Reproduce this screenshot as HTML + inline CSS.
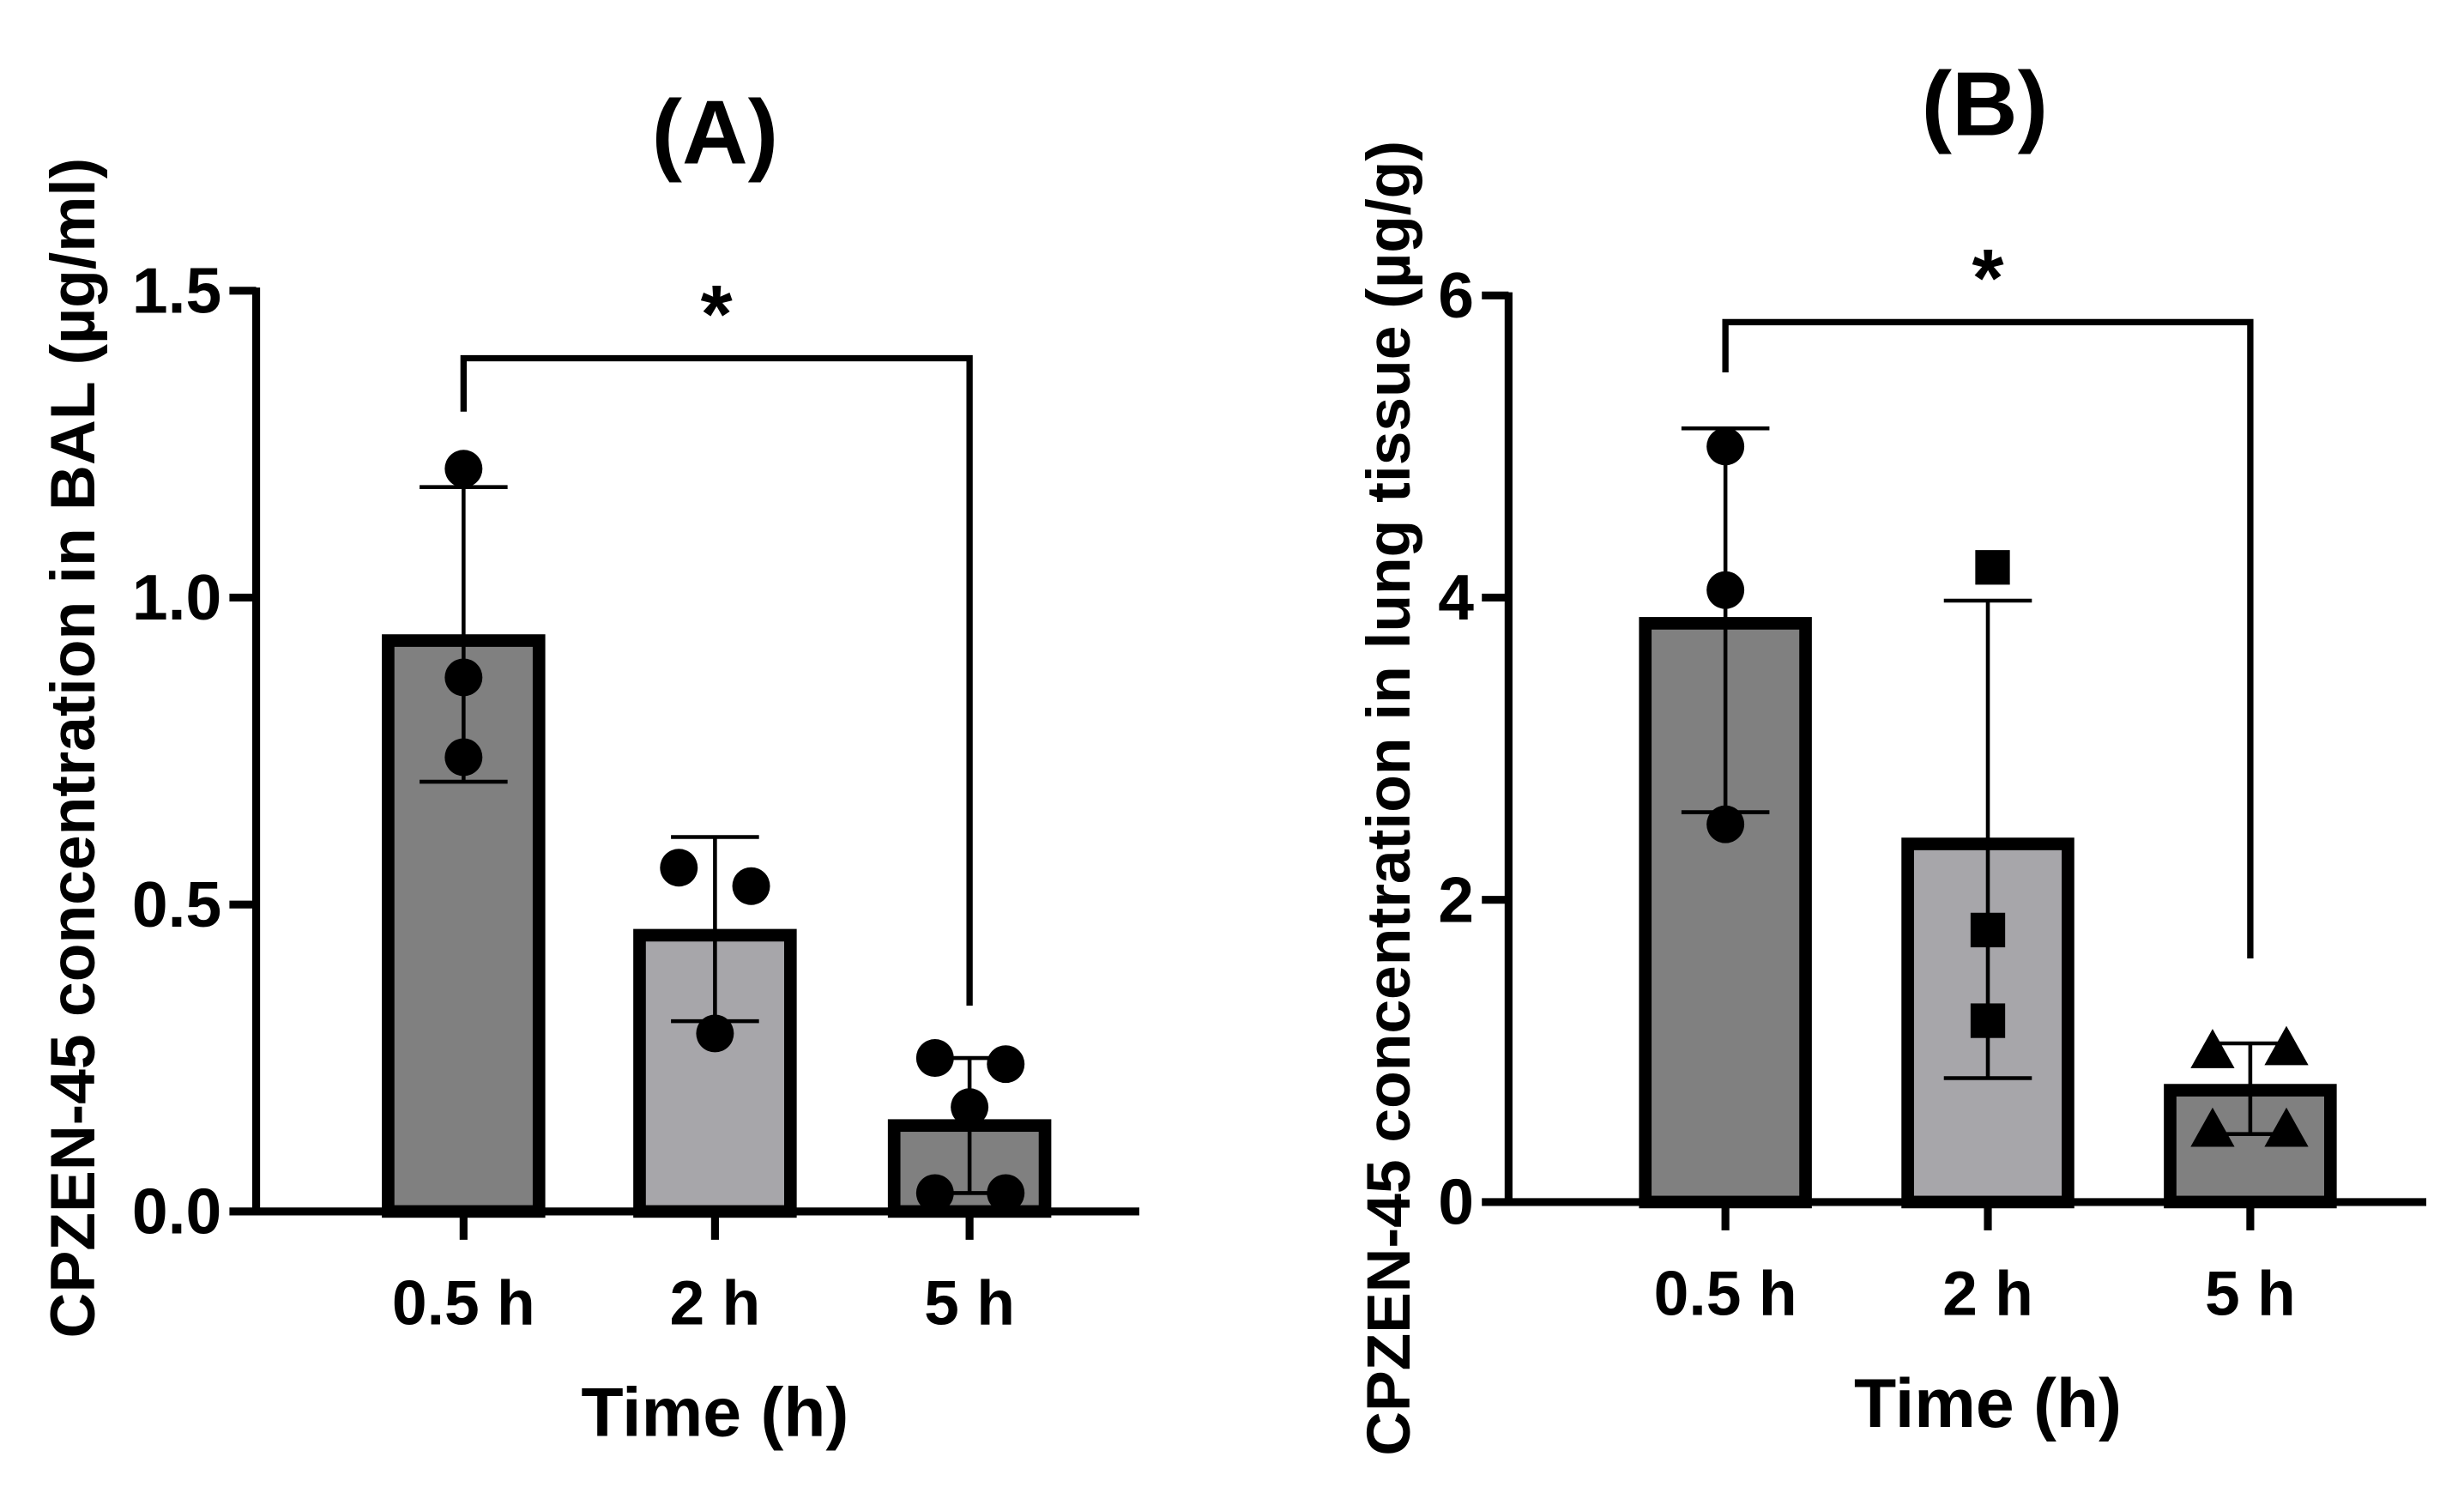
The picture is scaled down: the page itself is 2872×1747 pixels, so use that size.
<!DOCTYPE html>
<html><head><meta charset="utf-8"><style>
html,body{margin:0;padding:0;background:#fff;}
svg{display:block;font-family:"Liberation Sans",Arial,sans-serif;font-weight:bold;}
</style></head><body>
<svg id="fig" width="2872" height="1747" viewBox="0 0 1568 954" preserveAspectRatio="none" xmlns="http://www.w3.org/2000/svg"></svg>
<script>
const categories = ["0.5 h","2 h","5 h"];
const meansA = [0.93, 0.45, 0.14];
const errLowA = [0.70, 0.31, 0.03];
const errHighA = [1.18, 0.61, 0.25];
const pointsA = [[1.21,0.87,0.74],[0.56,0.53,0.29],[0.25,0.24,0.17,0.03,0.03]];
const pointsAOffsets = [[0,0,0],[-23,23,0],[-22,23,0,-22,23]];
const ticksA = [0,0.5,1.0,1.5];
const tickLabelsA = ["0.0","0.5","1.0","1.5"];
const meansB = [3.83, 2.37, 0.74];
const errLowB = [2.58, 0.82, 0.45];
const errHighB = [5.12, 3.98, 1.05];
const pointsB = [[5.0,4.05,2.5],[4.2,1.8,1.2],[1.0,1.02,0.48,0.48]];
const pointsBOffsets = [[0,0,0],[3,0,0],[-24,23,-24,23]];
const ticksB = [0,2,4,6];
const tickLabelsB = ["0","2","4","6"];
const barFill = ["#808080","#a7a6aa","#808080"];

const svg = document.getElementById('fig');
const NS = "http://www.w3.org/2000/svg";
function mk(tag, attrs, parent){const e=document.createElementNS(NS,tag);for(const k in attrs)e.setAttribute(k,attrs[k]);(parent||svg).appendChild(e);return e;}

function panel(cfg){
  const g = mk('g',{});
  
  
  const y = v => cfg.y0 - (v - 0) / cfg.max * (cfg.y0 - cfg.yTop);
  const t = mk('text',{x:cfg.titleX,y:cfg.titleY,'text-anchor':'middle','font-size':58},g); t.textContent=cfg.title;
  
  
  const ya = mk('line',{x1:cfg.ax,y1:cfg.yTop-2,x2:cfg.ax,y2:cfg.y0+2,stroke:'#000','stroke-width':5},g);
  
  
  cfg.ticks.forEach((v,i)=>{
    mk('line',{x1:cfg.ax-17,y1:y(v),x2:cfg.ax,y2:y(v),stroke:'#000','stroke-width':5},g);
    const tl = mk('text',{x:cfg.ax-22,y:y(v)+14,'text-anchor':'end','font-size':41},g); tl.textContent=cfg.tickLabels[i];
    
    
  });
  categories.forEach((c,i)=>{
    const cx = cfg.cx[i], w=cfg.bw;
    const b = mk('rect',{x:cx-w/2+4,y:y(cfg.means[i]),width:w-8,height:cfg.y0-y(cfg.means[i]),fill:barFill[i],stroke:'#000','stroke-width':8},g);
    
    
  });
  const xa = mk('line',{x1:cfg.ax-2,y1:cfg.y0,x2:cfg.axEnd,y2:cfg.y0,stroke:'#000','stroke-width':5},g);
  
  
  categories.forEach((c,i)=>{
    const cx=cfg.cx[i];
    mk('line',{x1:cx,y1:cfg.y0,x2:cx,y2:cfg.y0+18,stroke:'#000','stroke-width':5},g);
    const xl = mk('text',{x:cx,y:cfg.y0+72,'text-anchor':'middle','font-size':40},g); xl.textContent=c;
    
    
    const e = mk('g',{stroke:'#000','stroke-width':2.5},g);
    
    
    mk('line',{x1:cx,y1:y(cfg.lo[i]),x2:cx,y2:y(cfg.hi[i])},e);
    mk('line',{x1:cx-28,y1:y(cfg.lo[i]),x2:cx+28,y2:y(cfg.lo[i])},e);
    mk('line',{x1:cx-28,y1:y(cfg.hi[i]),x2:cx+28,y2:y(cfg.hi[i])},e);
    cfg.points[i].forEach((v,j)=>{
      const px=cx+cfg.offs[i][j], py=y(v); let p;
      const shape = cfg.shapes[i];
      if(shape==='circle') p=mk('circle',{cx:px,cy:py,r:12,fill:'#000'},g);
      else if(shape==='square') p=mk('rect',{x:px-11,y:py-11,width:22,height:22,fill:'#000'},g);
      else p=mk('polygon',{points:`${px},${py-14} ${px+14},${py+11} ${px-14},${py+11}`,fill:'#000'},g);
      
      
    });
  });
  const br = mk('polyline',{points:`${cfg.cx[0]},${cfg.brLeftEnd} ${cfg.cx[0]},${cfg.brY} ${cfg.cx[2]},${cfg.brY} ${cfg.cx[2]},${cfg.brRightEnd}`,fill:'none',stroke:'#000','stroke-width':4},g);
  
  
  const st = mk('text',{x:(cfg.cx[0]+cfg.cx[2])/2,y:cfg.brY-10,'text-anchor':'middle','font-size':52},g); st.textContent='*';
  
  
  const xt = mk('text',{x:cfg.cx[1],y:cfg.y0+143,'text-anchor':'middle','font-size':44},g); xt.textContent='Time (h)';
  
  
  const yt = mk('text',{x:0,y:0,'text-anchor':'middle','font-size':cfg.ytSize,transform:`translate(${cfg.ytX},${cfg.ytY}) rotate(-90)`},g); yt.textContent=cfg.yTitle;
  
  
}

panel({name:'panel-a',title:'(A)',titleX:455,titleY:104,ax:163,axEnd:725,y0:771,yTop:185,max:1.5,bw:104,
  ticks:ticksA,tickLabels:tickLabelsA,cx:[295,455,617],means:meansA,lo:errLowA,hi:errHighA,
  points:pointsA,offs:pointsAOffsets,shapes:['circle','circle','circle'],
  brY:228,brLeftEnd:262,brRightEnd:640,ytX:60,ytY:476,ytSize:40,yTitle:'CPZEN-45 concentration in BAL (µg/ml)'});
panel({name:'panel-b',title:'(B)',titleX:1263,titleY:86,ax:960,axEnd:1544,y0:765,yTop:188,max:6,bw:110,
  ticks:ticksB,tickLabels:tickLabelsB,cx:[1098,1265,1432],means:meansB,lo:errLowB,hi:errHighB,
  points:pointsB,offs:pointsBOffsets,shapes:['circle','square','triangle'],
  brY:205,brLeftEnd:237,brRightEnd:610,ytX:897,ytY:508,ytSize:39,yTitle:'CPZEN-45 concentration in lung tissue (µg/g)'});
</script>
</body></html>
